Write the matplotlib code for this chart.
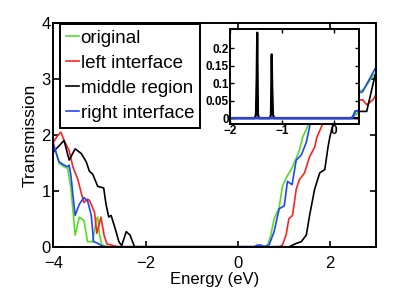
import matplotlib
matplotlib.use("Agg")
import matplotlib.pyplot as plt

plt.rcParams['font.family'] = ['Liberation Sans', 'DejaVu Sans']

# main panel data
x_orig = [-4.0, -3.95, -3.88, -3.77, -3.69, -3.62, -3.53, -3.44, -3.34, -3.26, -3.15, -3.07, -3.04, -3.0, -2.95, -2.8,
          0.55, 0.65, 0.72, 0.79, 0.90, 0.97, 1.05, 1.16, 1.27, 1.34, 1.41, 1.6, 2.0, 2.4, 2.71, 2.80, 2.94, 3.0]
y_orig = [1.70, 1.70, 1.49, 1.43, 1.40, 1.03, 0.21, 0.53, 0.47, 0.09, 0.09, 0.50, 0.53, 0.21, 0.03, 0.0,
          0.0, 0.03, 0.21, 0.50, 0.70, 1.08, 1.23, 1.38, 1.58, 1.73, 1.96, 2.3, 2.6, 2.75, 2.80, 2.89, 3.06, 3.1]

x_left = [-4.0, -3.91, -3.84, -3.77, -3.66, -3.58, -3.47, -3.40, -3.34, -3.26, -3.22, -3.11, -3.06, -2.97, -2.90,
          -2.84, -2.7, -2.6, 0.9, 0.97, 1.05, 1.11, 1.19, 1.27, 1.34, 1.45, 1.56, 1.67, 1.72, 1.9, 2.2, 2.5,
          2.71, 2.80, 2.94, 3.0]
y_left = [1.87, 1.99, 2.05, 1.90, 1.72, 1.43, 1.20, 0.97, 0.79, 0.85, 0.83, 0.62, 0.24, 0.53, 0.20,
          0.05, 0.02, 0.0, 0.0, 0.03, 0.21, 0.50, 0.56, 1.03, 1.20, 1.32, 1.61, 1.78, 1.96, 2.3, 2.5, 2.6,
          2.63, 2.54, 2.63, 2.72]

x_mid = [-4.0, -3.77, -3.66, -3.53, -3.40, -3.29, -3.22, -3.15, -3.04, -2.91, -2.86, -2.80, -2.75, -2.67, -2.58,
         -2.52, -2.42, -2.34, -2.24, -2.1, 1.0, 1.12, 1.27, 1.38, 1.49, 1.56, 1.67, 1.78, 1.89, 1.96, 2.0, 2.1,
         2.3, 2.55, 2.71, 2.80, 2.98, 3.0]
y_mid = [1.70, 1.90, 1.55, 1.75, 1.67, 1.52, 1.35, 1.30, 1.08, 1.05, 0.76, 0.53, 0.56, 0.35, 0.09,
         0.02, 0.27, 0.21, 0.0, 0.0, 0.0, 0.0, 0.06, 0.09, 0.21, 0.56, 1.03, 1.32, 1.38, 1.78, 1.96, 2.3,
         2.4, 2.42, 2.42, 2.42, 3.06, 3.1]

x_right = [-4.0, -3.95, -3.88, -3.77, -3.69, -3.66, -3.62, -3.58, -3.53, -3.44, -3.34, -3.26, -3.18, -3.13,
           -3.06, -3.0, -2.9, 0.35, 0.43, 0.50, 0.58, 0.68, 0.79, 0.90, 1.01, 1.08, 1.18, 1.27, 1.38, 1.49,
           1.6, 2.0, 2.4, 2.71, 2.98, 3.0]
y_right = [1.84, 1.70, 1.52, 1.46, 1.43, 1.46, 1.26, 0.94, 0.56, 0.76, 0.88, 0.82, 0.56, 0.09,
           0.07, 0.04, 0.0, 0.0, 0.03, 0.03, 0.0, 0.03, 0.27, 0.68, 0.73, 1.17, 1.11, 1.55, 1.64, 1.87,
           2.3, 2.55, 2.7, 2.77, 3.18, 3.2]

# inset data
xi_orig = [-2.0, 0.33, 0.40, 0.45, 0.5]
yi_orig = [0.0, 0.0, 0.008, 0.012, 0.02]
xi_left = [-2.0, 0.5]
yi_left = [0.0, 0.0]
xi_mid = [-2.0, -1.52, -1.50, -1.485, -1.475, -1.46, -1.44, -1.23, -1.21, -1.195, -1.185, -1.17, -1.15, 0.5]
yi_mid = [0.0, 0.0, 0.01, 0.12, 0.245, 0.01, 0.0, 0.0, 0.01, 0.183, 0.09, 0.01, 0.0, 0.0]
xi_right = [-2.0, 0.36, 0.42, 0.5]
yi_right = [0.0, 0.0, 0.02, 0.022]

labels = ['original', 'left interface', 'middle region', 'right interface']
colors = ['#55dd22', '#ff2222', 'black', '#2244ff']

fig = plt.figure(figsize=(4.16, 2.92), dpi=100)
ax = fig.add_axes([0.1286, 0.155, 0.775, 0.766])

series = [(x_orig, y_orig), (x_left, y_left), (x_mid, y_mid), (x_right, y_right)]
for (xs, ys), lab, c in zip(series, labels, colors):
    ax.plot(xs, ys, color=c, lw=1.2, label=lab)

ax.set_xlim(-4, 3)
ax.set_ylim(0, 4)
ax.set_xticks([-4, -2, 0, 2])
ax.set_yticks([0, 1, 2, 3, 4])
ax.tick_params(direction='in', top=True, right=True, labelsize=12, length=4, width=1.2)
ax.tick_params(axis='x', pad=6.8)
ax.tick_params(axis='y', pad=2)
for s in ax.spines.values():
    s.set_linewidth(1.4)
ax.set_xlabel('Energy (eV)', fontsize=12, labelpad=0.3)
ax.set_ylabel('Transmission', fontsize=12.5, labelpad=3)

leg = ax.legend(loc='upper left', bbox_to_anchor=(0.02, 0.995), borderaxespad=0, fontsize=13.5,
                handlelength=0.7, handletextpad=0.1, labelspacing=0.42, borderpad=0.3,
                fancybox=False, framealpha=1, edgecolor='black')
leg.get_frame().set_linewidth(1.4)

# inset
axi = fig.add_axes([0.553, 0.575, 0.311, 0.325])
inset = [(xi_orig, yi_orig), (xi_left, yi_left), (xi_mid, yi_mid), (xi_right, yi_right)]
for (xs, ys), c in zip(inset, colors):
    axi.plot(xs, ys, color=c, lw=1.6)
axi.set_xlim(-2, 0.5)
axi.set_ylim(-0.017, 0.255)
axi.set_xticks([-2, -1, 0])
axi.set_yticks([0, 0.05, 0.1, 0.15, 0.2])
axi.set_yticklabels(['0', '0.05', '0.1', '0.15', '0.2'])
axi.tick_params(direction='in', top=True, right=True, labelsize=8.5, length=3, width=1, pad=1)
for t in axi.get_xticklabels() + axi.get_yticklabels():
    t.set_fontweight('bold')
for s in axi.spines.values():
    s.set_linewidth(1.4)

fig.savefig('out.png', dpi=100)
